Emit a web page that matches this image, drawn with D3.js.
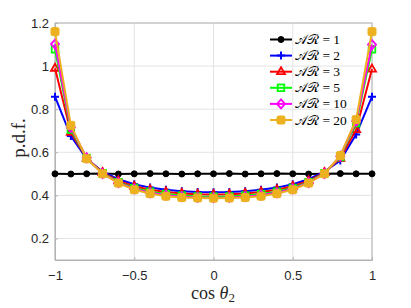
<!DOCTYPE html>
<html><head><meta charset="utf-8">
<script src="https://cdn.jsdelivr.net/npm/d3@7/dist/d3.min.js"></script>
<style>body{margin:0;background:#fff}svg{display:block}</style>
</head><body><svg id="c" width="411" height="308"></svg>
<script>
const xs = [-1,-0.9,-0.8,-0.7,-0.6,-0.5,-0.4,-0.3,-0.2,-0.1,0,0.1,0.2,0.3,0.4,0.5,0.6,0.7,0.8,0.9,1];
const ar1  = [0.500,0.499,0.500,0.501,0.499,0.500,0.501,0.500,0.499,0.500,0.500,0.501,0.499,0.500,0.501,0.500,0.499,0.500,0.501,0.500,0.500];
const ar2  = [0.858,0.675,0.570,0.510,0.475,0.452,0.436,0.426,0.419,0.416,0.415,0.416,0.419,0.426,0.436,0.452,0.475,0.510,0.562,0.683,0.858];
const ar3  = [0.990,0.692,0.572,0.506,0.467,0.442,0.426,0.416,0.409,0.405,0.404,0.405,0.409,0.416,0.426,0.442,0.467,0.506,0.572,0.705,0.986];
const ar5  = [1.078,0.705,0.573,0.503,0.461,0.434,0.417,0.406,0.399,0.395,0.394,0.395,0.399,0.406,0.417,0.434,0.461,0.503,0.578,0.735,1.078];
const ar10 = [1.102,0.715,0.574,0.501,0.459,0.430,0.412,0.401,0.394,0.390,0.389,0.390,0.394,0.401,0.412,0.430,0.459,0.501,0.582,0.745,1.100];
const ar20 = [1.160,0.725,0.570,0.500,0.457,0.426,0.408,0.396,0.390,0.388,0.387,0.388,0.390,0.396,0.408,0.426,0.457,0.500,0.585,0.752,1.160];
const seriesNames = ["1","2","3","5","10","20"];
const xTicks = [-1,-0.5,0,0.5,1];
const yTicks = [0.2,0.4,0.6,0.8,1,1.2];

const series = [
  {name:seriesNames[0], v:ar1,  color:"#000000", marker:"circle"},
  {name:seriesNames[1], v:ar2,  color:"#0000ff", marker:"plus"},
  {name:seriesNames[2], v:ar3,  color:"#ff0000", marker:"triangle"},
  {name:seriesNames[3], v:ar5,  color:"#00ff00", marker:"square"},
  {name:seriesNames[4], v:ar10, color:"#ff00ff", marker:"diamond"},
  {name:seriesNames[5], v:ar20, color:"#edb120", marker:"fsquare"}
];

const svg = d3.select("#c");
const L=55, R=372, T=23, B=260;
const x = d3.scaleLinear().domain([-1,1]).range([L,R]);
const y = d3.scaleLinear().domain([0.1,1.2]).range([B,T]);

const g = svg.append("g");
g.selectAll(".gx").data(xTicks).enter().append("line")
 .attr("x1",d=>x(d)).attr("x2",d=>x(d)).attr("y1",T).attr("y2",B)
 .attr("stroke","#e3e3e3").attr("stroke-width",1);
g.selectAll(".gy").data(yTicks).enter().append("line")
 .attr("y1",d=>y(d)).attr("y2",d=>y(d)).attr("x1",L).attr("x2",R)
 .attr("stroke","#e3e3e3").attr("stroke-width",1);

const axc="#b3b3b3";
svg.append("rect").attr("x",L).attr("y",T).attr("width",R-L).attr("height",B-T)
 .attr("fill","none").attr("stroke",axc).attr("stroke-width",1);

const xAxis = d3.axisBottom(x).tickValues(xTicks).tickSize(-3).tickPadding(6).tickFormat(d3.format("~g"));
const yAxis = d3.axisLeft(y).tickValues(yTicks).tickSize(-3).tickPadding(6).tickFormat(d3.format("~g"));
const ax = svg.append("g").attr("transform",`translate(0,${B})`).call(xAxis);
const ay = svg.append("g").attr("transform",`translate(${L},0)`).call(yAxis);
[ax,ay].forEach(a=>{
  a.select(".domain").attr("stroke",axc);
  a.selectAll(".tick line").attr("stroke",axc);
  a.selectAll("text").attr("fill","#262626").style("font-family","'Liberation Sans',Arial,sans-serif").style("font-size","13px");
});
ax.selectAll("text").attr("dy","1.1em");

function drawMarker(sel, m, color){
  const s=3.3;
  if(m==="circle") sel.append("circle").attr("r",3).attr("fill",color).attr("stroke",color);
  else if(m==="plus") sel.append("path").attr("d",`M${-4},0H4M0,${-4}V4`).attr("stroke",color).attr("stroke-width",2).attr("fill","none");
  else if(m==="triangle") sel.append("path").attr("d",`M0,-4.5L4,2.5L-4,2.5Z`).attr("stroke",color).attr("stroke-width",1.8).attr("fill","none");
  else if(m==="square") sel.append("rect").attr("x",-s).attr("y",-s).attr("width",2*s).attr("height",2*s).attr("stroke",color).attr("stroke-width",1.8).attr("fill","none");
  else if(m==="diamond") sel.append("path").attr("d",`M0,-4.5L4,0L0,4.5L-4,0Z`).attr("stroke",color).attr("stroke-width",1.8).attr("fill","none");
  else if(m==="fsquare") sel.append("rect").attr("x",-4).attr("y",-4).attr("width",8).attr("height",8).attr("rx",1.5).attr("stroke",color).attr("stroke-width",1).attr("fill",color);
}

const line = d3.line().x((d,i)=>x(xs[i])).y(d=>y(d));
const plot = svg.append("g");
series.forEach(s=>{
  plot.append("path").datum(s.v).attr("d",line).attr("fill","none").attr("stroke",s.color).attr("stroke-width",2);
  s.v.forEach((v,i)=>{
    const mg = plot.append("g").attr("transform",`translate(${x(xs[i])},${y(v)})`);
    drawMarker(mg,s.marker,s.color);
  });
});

const lg = svg.append("g");
series.forEach((s,i)=>{
  const yy = 39.5 + i*16.1;
  lg.append("line").attr("x1",270).attr("x2",292).attr("y1",yy).attr("y2",yy).attr("stroke",s.color).attr("stroke-width",2);
  drawMarker(lg.append("g").attr("transform",`translate(281,${yy})`), s.marker, s.color);
  const t = lg.append("text").attr("x",295).attr("y",yy+4.5)
    .style("font-family","'Liberation Serif',serif").style("font-size","13.5px").attr("fill","#000");
  t.append("tspan").style("font-size","13px").text("\u{1D49C}\u211B");
  t.append("tspan").text(" = "+s.name);
});

svg.append("text").attr("transform","translate(19,138) rotate(-90)").attr("text-anchor","middle")
  .attr("dy","0.3em")
  .style("font-family","'Liberation Serif','DejaVu Serif',serif").style("font-size","19px").attr("fill","#262626").text("p.d.f.");
const xl = svg.append("text").attr("x",213).attr("y",299).attr("text-anchor","middle")
  .style("font-family","'Liberation Serif','DejaVu Serif',serif").style("font-size","18px").attr("fill","#262626");
xl.append("tspan").text("cos ");
xl.append("tspan").style("font-style","italic").text("θ");
xl.append("tspan").attr("dy",3).style("font-size","13px").text("2");
</script></body></html>
